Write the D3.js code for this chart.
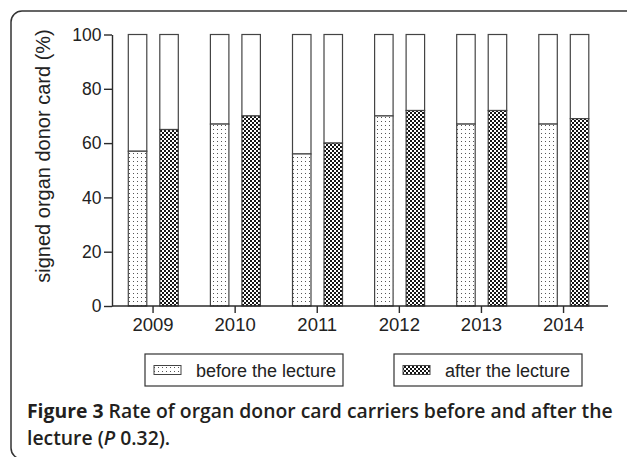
<!DOCTYPE html>
<html>
<head>
    <script src="https://cdnjs.cloudflare.com/ajax/libs/d3/7.8.5/d3.min.js"></script>
    <style>
        body { margin: 0; background: #fff; }
    </style>
</head>
<body>
    <div id="chart"></div>
    <script>
        // values
        const years = ["2009", "2010", "2011", "2012", "2013", "2014"]
        const beforeVals = [57, 67, 56, 70, 67, 67]
        const afterVals = [65, 70, 60, 72, 72, 69]
        const seriesKeys = ["before", "after"]
        const seriesLabels = ["before the lecture", "after the lecture"]
        const yTicks = [0, 20, 40, 60, 80, 100]

        const W = 627, H = 457
        const FONT = "'Liberation Sans', Arial, Helvetica, sans-serif"
        const INK = "#2b2b2b"

        let svg = d3.select("#chart").append("svg")
            .attr("width", W).attr("height", H)

        // fill patterns
        let defs = svg.append("defs")
        let dots = defs.append("pattern").attr("id", "dots")
            .attr("patternUnits", "userSpaceOnUse").attr("width", 4).attr("height", 4)
        dots.append("rect").attr("width", 4).attr("height", 4).attr("fill", "#fff")
        dots.append("rect").attr("x", 1).attr("y", 1).attr("width", 1).attr("height", 1).attr("fill", "#555")

        let checks = defs.append("pattern").attr("id", "checks")
            .attr("patternUnits", "userSpaceOnUse").attr("width", 4).attr("height", 4)
        checks.append("rect").attr("width", 4).attr("height", 4).attr("fill", "#151515")
        checks.append("rect").attr("x", 0).attr("y", 0).attr("width", 2).attr("height", 2).attr("fill", "#fff")
        checks.append("rect").attr("x", 2).attr("y", 2).attr("width", 2).attr("height", 2).attr("fill", "#fff")

        const fills = { before: "url(#dots)", after: "url(#checks)" }

        // rounded frame, runs off the right and bottom edge
        svg.append("rect").attr("x", 11).attr("y", 11)
            .attr("width", 720).attr("height", 448).attr("rx", 11)
            .attr("fill", "none").attr("stroke", "#333").attr("stroke-width", 1.5)

        let x0 = d3.scaleBand().domain(years).range([112, 604.6])
        let x1 = d3.scaleBand().domain(seriesKeys).range([16.3, 66.3]).paddingInner(0.413)
        let y = d3.scaleLinear().domain([0, 100]).range([306, 34.5])

        let rows = years.map((yr, i) => ({ year: yr, before: beforeVals[i], after: afterVals[i] }))

        let g = svg.append("g")
        rows.forEach(function (row) {
            seriesKeys.forEach(function (k) {
                let bx = x0(row.year) + x1(k)
                // empty remainder up to 100%
                g.append("rect").attr("x", bx).attr("y", y(100))
                    .attr("width", x1.bandwidth()).attr("height", y(row[k]) - y(100))
                    .attr("fill", "#fff").attr("stroke", "#444").attr("stroke-width", 1.2)
                g.append("rect").attr("x", bx).attr("y", y(row[k]))
                    .attr("width", x1.bandwidth()).attr("height", y(0) - y(row[k]))
                    .attr("fill", fills[k]).attr("stroke", "#444").attr("stroke-width", 1.2)
            })
        })

        // axes
        let yAxis = svg.append("g").attr("transform", "translate(112,0)")
            .call(d3.axisLeft(y).tickValues(yTicks).tickSize(8).tickSizeOuter(0).tickPadding(2.5))
        yAxis.selectAll("text").style("font-family", FONT).style("font-size", "17.5px").attr("fill", "#222")

        let xAxis = svg.append("g").attr("transform", "translate(0,306)")
            .call(d3.axisBottom(x0).tickSize(7).tickPadding(5))
        xAxis.select(".domain").remove()
        xAxis.append("line").attr("x1", 112).attr("x2", 608).attr("y1", 0).attr("y2", 0)
        xAxis.selectAll("text").style("font-family", FONT).style("font-size", "18.5px").attr("fill", "#222")

        svg.selectAll(".domain, .tick line, g > line").attr("stroke", INK).attr("stroke-width", 1.4)

        svg.append("text").attr("transform", "translate(50,156) rotate(-90)")
            .attr("text-anchor", "middle")
            .style("font-family", FONT).style("font-size", "20px").attr("fill", "#222")
            .text("signed organ donor card (%)")

        // legend
        const legendBoxes = [{ x: 145, w: 198 }, { x: 394, w: 188 }]
        seriesKeys.forEach(function (k, i) {
            let b = legendBoxes[i]
            let lg = svg.append("g").attr("transform", `translate(${b.x},354)`)
            lg.append("rect").attr("width", b.w).attr("height", 32)
                .attr("fill", "#fff").attr("stroke", "#333").attr("stroke-width", 1.2)
            lg.append("rect").attr("x", 9).attr("y", 11.5).attr("width", 27).attr("height", 9)
                .attr("fill", fills[k]).attr("stroke", "#444").attr("stroke-width", 1)
            lg.append("text").attr("x", 51).attr("y", 23)
                .style("font-family", FONT).style("font-size", "18px").attr("fill", "#222")
                .text(seriesLabels[i])
        })

        // caption
        const CAP = "'Open Sans', 'Noto Sans', sans-serif"
        let cap1 = svg.append("text").attr("x", 27).attr("y", 418)
            .style("font-family", CAP).style("font-size", "18px").attr("fill", "#231f20")
        cap1.append("tspan").style("font-weight", 700).text("Figure 3")
        cap1.append("tspan").style("font-weight", 600).text(" Rate of organ donor card carriers before and after the")

        let fs = 18 * 586 / cap1.node().getComputedTextLength()
        cap1.style("font-size", fs + "px")

        let cap2 = svg.append("text").attr("x", 27).attr("y", 445)
            .style("font-family", CAP).style("font-size", fs + "px").style("font-weight", 600).attr("fill", "#231f20")
        cap2.append("tspan").text("lecture (")
        cap2.append("tspan").style("font-style", "italic").text("P")
        cap2.append("tspan").text(" 0.32).")
    </script>
</body>
</html>
